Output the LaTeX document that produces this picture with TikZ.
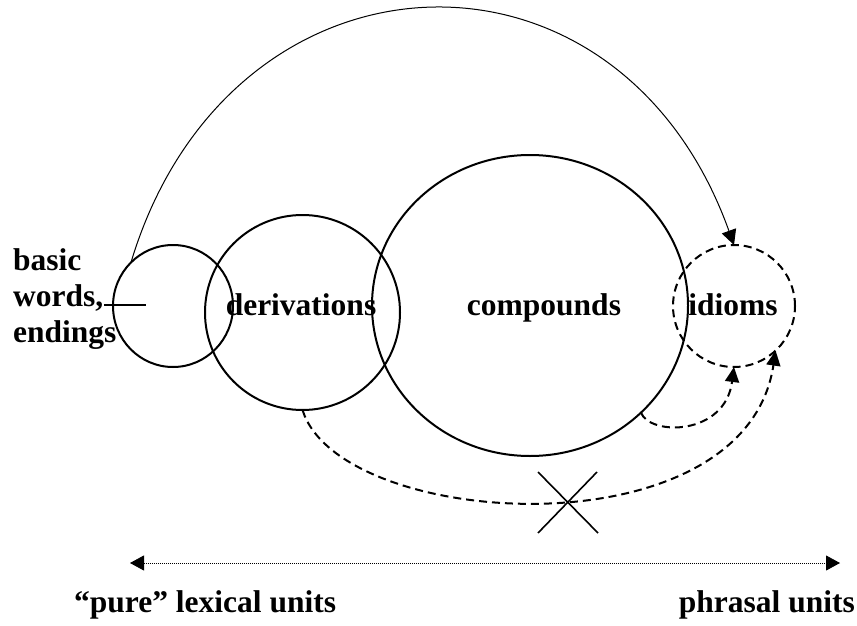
\documentclass[tikz,border=0pt]{standalone}
\usepackage{fontspec}
\setmainfont{Liberation Serif}
\usetikzlibrary{arrows.meta,shapes.geometric}
\begin{document}
\begin{tikzpicture}[x=1pt,y=-1pt]
\tikzset{
  ring/.style={draw, ellipse, line width=2pt, inner sep=0pt, outer sep=0pt},
  dashring/.style={ring, dash pattern=on 8pt off 5pt},
  lbl/.style={font=\fontsize{31.5}{36}\selectfont\bfseries, inner sep=0pt},
  bigtip/.style={-{Triangle[length=15pt,width=15pt]}},
  dconn/.style={line width=2pt, dash pattern=on 8pt off 5pt, -{Triangle[length=15pt,width=14pt]}},
  axis/.style={line width=0.8pt, dash pattern=on 1pt off 1pt, {Triangle[length=14pt,width=15pt]}-{Triangle[length=14pt,width=15pt]}},
  thin/.style={line width=1.6pt}
}
\fill[white] (0,0) rectangle (857,626);
\useasboundingbox (0,0) rectangle (857,626);

% circles / ellipses
\node[ring, minimum width=120pt, minimum height=122pt] (basic) at (173,306) {};
\node[ring, minimum width=195pt, minimum height=195pt] (deriv) at (302.5,312.5) {};
\node[ring, minimum width=316pt, minimum height=301pt] (comp) at (530,305.5) {};
\node[dashring, minimum width=122pt, minimum height=122pt] (idioms) at (734,306) {};

% labels
\node[lbl, align=left, anchor=north west] (basictxt) at (13,248) {basic\\words,\\endings};
\node[lbl, anchor=base] (derivtxt) at (301,315) {derivations};
\node[lbl, anchor=base] (comptxt) at (544,315) {compounds};
\node[lbl, anchor=base] (idiomtxt) at (733,315) {idioms};
\node[lbl, anchor=base west] (pure) at (74,612) {“pure” lexical units};
\node[lbl, anchor=base east] (phrasal) at (855,612) {phrasal units};

% pointer line
\coordinate (wl) at (104,305);
\coordinate (wr) at (146,305);
\draw[thin] (wl) -- (wr);

% connectors
\draw[line width=1pt, bigtip] (basic.134) .. controls (229,-64) and (617,-81) .. (idioms.north);
\draw[dconn] (comp.-44) .. controls (650,436) and (725,436) .. (idioms.south);
\draw[dconn] (deriv.south) .. controls (340,530) and (745,555) .. (idioms.-47);

% cross
\draw[thin] (538,472) -- (598,533) (597,472) -- (538,533);

% axis
\coordinate (L) at (130,563);
\coordinate (R) at (840,563);
\draw[axis] (L) -- (R);
\end{tikzpicture}
\end{document}
